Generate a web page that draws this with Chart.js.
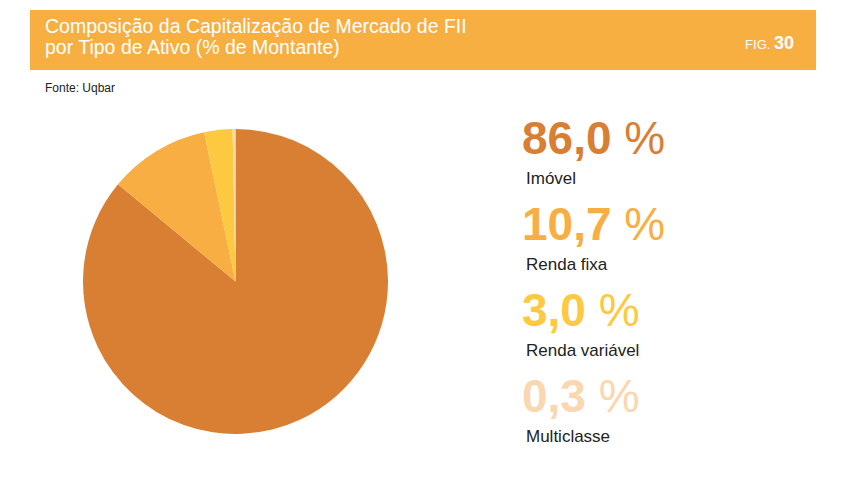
<!DOCTYPE html>
<html>
<head>
<meta charset="utf-8">
<script src="https://cdn.jsdelivr.net/npm/chart.js@4"></script>
<style>
  body { margin: 0; background: #fff; font-family: "Liberation Sans", Arial, sans-serif; }
  #page { position: relative; width: 850px; height: 489px; overflow: hidden; }
  #header { position: absolute; left: 30px; top: 10px; width: 786px; height: 60px; background: #F8AF42; }
  #title { position: absolute; left: 15px; top: 6px; color: #fff; font-size: 19.5px; line-height: 21px; }
  #fig { position: absolute; right: 22px; top: 23px; color: #fff; font-size: 13px; }
  #fig b { font-size: 18px; }
  #source { position: absolute; left: 45px; top: 81px; font-size: 12px; color: #222; }
  #pieBox { position: absolute; left: 83px; top: 129px; width: 305px; height: 305px; }
  .num { position: absolute; left: 522px; font-size: 46px; line-height: 46px; font-weight: bold; white-space: nowrap; }
  .num span { font-weight: normal; }
  .lbl { position: absolute; left: 526px; font-size: 17px; line-height: 17px; color: #222; white-space: nowrap; }
</style>
</head>
<body>
<div id="page">
  <div id="header">
    <div id="title">Composição da Capitalização de Mercado de FII<br>por Tipo de Ativo (% de Montante)</div>
    <div id="fig">FIG. <b>30</b></div>
  </div>
  <div id="source">Fonte: Uqbar</div>
  <div id="pieBox"><canvas id="pie"></canvas></div>
  <div id="legend"></div>
</div>
<script>
// data
const categories = ['Imóvel', 'Renda fixa', 'Renda variável', 'Multiclasse'];
const shares = [86.0, 10.7, 3.0, 0.3];
const colors = ['#D97F33', '#F8AE42', '#FCC940', '#FAD7AE'];

// legend on the right, big numbers + labels
const legend = document.getElementById('legend');
categories.forEach((cat, i) => {
    const top = 115 + i * 86;
    const num = document.createElement('div');
    num.className = 'num';
    num.style.top = top + 'px';
    num.style.color = colors[i];
    num.innerHTML = shares[i].toFixed(1).replace('.', ',') + ' <span>%</span>';
    legend.appendChild(num);

    const lbl = document.createElement('div');
    lbl.className = 'lbl';
    lbl.style.top = (top + 55) + 'px';
    lbl.textContent = cat;
    legend.appendChild(lbl);
});

new Chart(document.getElementById('pie'), {
    type: 'pie',
    data: {
        labels: categories,
        datasets: [{
            data: shares,
            backgroundColor: colors,
            borderWidth: 0
        }]
    },
    options: {
        responsive: true,
        maintainAspectRatio: false,
        animation: false,
        plugins: {
            legend: { display: false },
            tooltip: { enabled: false }
        }
    }
});
</script>
</body>
</html>
